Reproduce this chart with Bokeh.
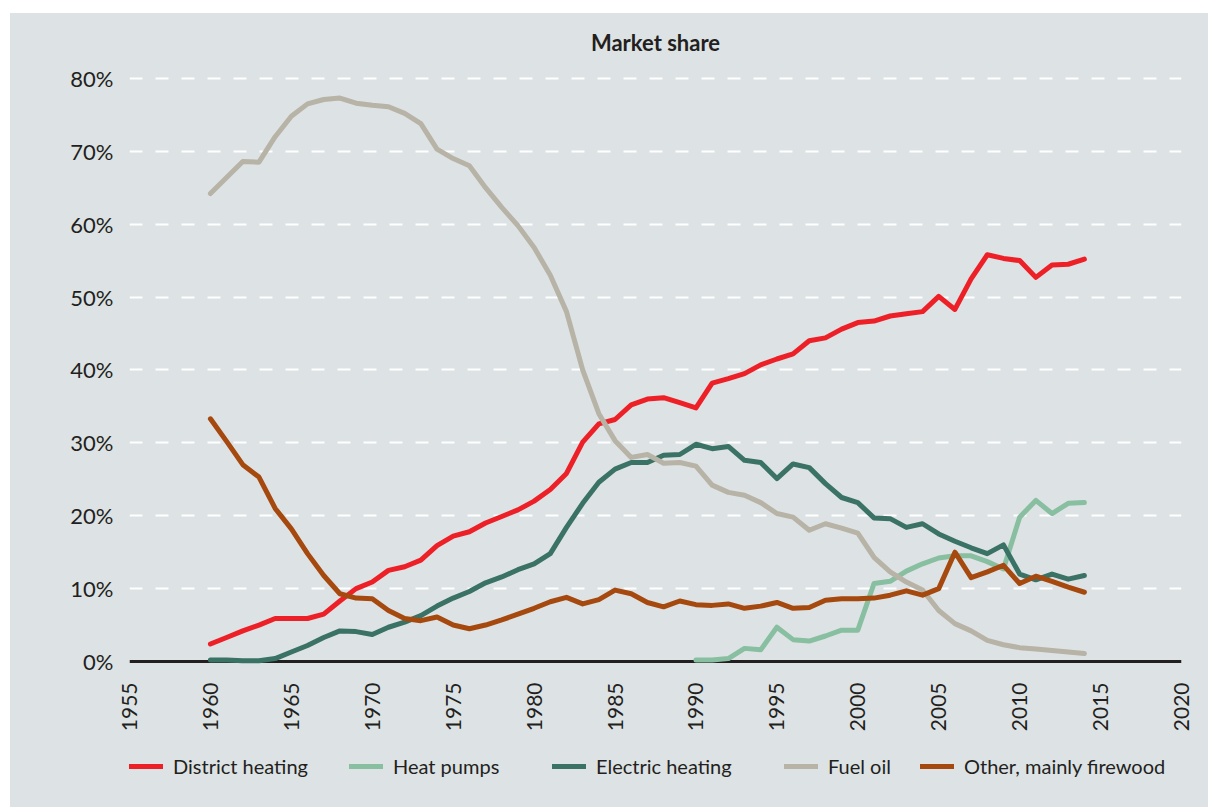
from math import pi
from bokeh.plotting import figure
from bokeh.layouts import column
from bokeh.models import Range1d, FixedTicker, PrintfTickFormatter, Span, Label, Legend, LegendItem
from bokeh.embed import file_html
from bokeh.resources import INLINE

# ---- data ----
years = list(range(1960, 2015))
hp_years = list(range(1990, 2015))

district_heating = [2.4, 3.3, 4.2, 5.0, 5.9, 5.9, 5.9, 6.5, 8.3, 10.0,
                    10.9, 12.5, 13.0, 13.9, 15.9, 17.2, 17.8, 19.0, 19.9, 20.8,
                    22.0, 23.6, 25.8, 30.1, 32.6, 33.2, 35.2, 36.0, 36.2, 35.5,
                    34.8, 38.2, 38.8, 39.5, 40.7, 41.5, 42.2, 44.0, 44.4, 45.6,
                    46.5, 46.7, 47.4, 47.7, 48.0, 50.1, 48.3, 52.5, 55.8, 55.3,
                    55.0, 52.7, 54.4, 54.5, 55.2]
heat_pumps = [0.2, 0.2, 0.4, 1.8, 1.6, 4.7, 3.0, 2.8, 3.5, 4.3,
              4.3, 10.7, 11.0, 12.4, 13.4, 14.2, 14.5, 14.5, 13.7, 12.7,
              19.8, 22.1, 20.3, 21.7, 21.8]
electric_heating = [0.2, 0.2, 0.1, 0.1, 0.4, 1.3, 2.2, 3.3, 4.2, 4.1,
                    3.7, 4.7, 5.4, 6.3, 7.6, 8.7, 9.6, 10.8, 11.6, 12.6,
                    13.4, 14.8, 18.4, 21.7, 24.6, 26.4, 27.3, 27.3, 28.3, 28.4,
                    29.8, 29.2, 29.5, 27.6, 27.3, 25.1, 27.1, 26.6, 24.4, 22.5,
                    21.8, 19.7, 19.6, 18.4, 18.9, 17.5, 16.5, 15.6, 14.8, 16.0,
                    12.0, 11.2, 12.0, 11.3, 11.8]
fuel_oil = [64.2, 66.4, 68.6, 68.5, 72.0, 74.8, 76.5, 77.1, 77.3, 76.6,
            76.3, 76.1, 75.2, 73.8, 70.3, 69.0, 68.0, 65.0, 62.3, 59.8,
            56.8, 53.0, 48.0, 40.0, 34.0, 30.3, 28.0, 28.4, 27.2, 27.3,
            26.8, 24.2, 23.2, 22.8, 21.8, 20.3, 19.8, 18.0, 18.9, 18.3,
            17.6, 14.3, 12.3, 10.9, 9.8, 7.0, 5.2, 4.2, 2.9, 2.3,
            1.9, 1.7, 1.5, 1.3, 1.1]
other_firewood = [33.3, 30.2, 27.0, 25.3, 21.0, 18.2, 14.8, 11.8, 9.3, 8.7,
                  8.6, 7.0, 5.9, 5.6, 6.1, 5.0, 4.5, 5.0, 5.7, 6.5,
                  7.3, 8.2, 8.8, 7.9, 8.5, 9.8, 9.3, 8.1, 7.5, 8.3,
                  7.8, 7.7, 7.9, 7.3, 7.6, 8.1, 7.3, 7.4, 8.4, 8.6,
                  8.6, 8.7, 9.1, 9.7, 9.1, 10.0, 15.0, 11.5, 12.3, 13.2,
                  10.7, 11.7, 11.0, 10.2, 9.5]

x_ticks = list(range(1955, 2021, 5))
y_ticks = list(range(0, 81, 10))
title_text = "Market share"
series_labels = ["District heating", "Heat pumps", "Electric heating", "Fuel oil", "Other, mainly firewood"]

# ---- style ----
BG = "#dde2e4"
TXT = "#231f20"
FONT = "Lato"
colors = ["#ee2027", "#87bfa0", "#3a7265", "#b7b3a6", "#a6490f"]

series = [(years, district_heating), (hp_years, heat_pumps), (years, electric_heating),
          (years, fuel_oil), (years, other_firewood)]

# ---- main chart ----
p = figure(width=1198, height=730,
           x_range=Range1d(1955, 2020), y_range=Range1d(-2.606, 88.9),
           output_backend="svg", toolbar_location=None,
           min_border_left=119, min_border_right=27,
           min_border_top=0, min_border_bottom=63,
           background_fill_color=BG, border_fill_color=BG,
           outline_line_color=None)

p.yaxis.ticker = FixedTicker(ticks=y_ticks)
p.yaxis.formatter = PrintfTickFormatter(format="%d%%")
p.xaxis.ticker = FixedTicker(ticks=x_ticks)
p.xaxis.major_label_orientation = pi / 2
for ax in (p.xaxis, p.yaxis):
    ax.axis_line_color = None
    ax.major_tick_line_color = None
    ax.minor_tick_line_color = None
    ax.major_tick_out = 0
    ax.major_tick_in = 0
    ax.major_label_text_font = FONT
    ax.major_label_text_color = TXT
p.yaxis.major_label_text_font_size = "22px"
p.yaxis.major_label_standoff = 16
p.xaxis.major_label_text_font_size = "21px"
p.xaxis.major_label_standoff = 2

p.xgrid.grid_line_color = None
p.ygrid.ticker = FixedTicker(ticks=y_ticks[1:])
p.ygrid.grid_line_color = "white"
p.ygrid.grid_line_width = 2
p.ygrid.grid_line_dash = "13 13"

p.add_layout(Span(location=0, dimension="width", line_color=TXT, line_width=3, level="underlay"))

for (xs, ys), c in zip(series, colors):
    p.line(xs, ys, line_color=c, line_width=5, line_cap="round", line_join="round")

p.add_layout(Label(x=1987.5, y=84.9, text=title_text, text_align="center", text_baseline="middle",
                   text_font=FONT, text_font_size="22px", text_font_style="bold", text_color=TXT))

# ---- legend strip (its frame is aligned with the chart's frame) ----
q = figure(width=1198, height=64,
           x_range=Range1d(1955, 2020), y_range=Range1d(0, 100),
           output_backend="svg", toolbar_location=None,
           x_axis_location=None, y_axis_location=None, min_border=0,
           background_fill_color=None, border_fill_color=BG, outline_line_color=None)
q.grid.visible = False

leg_x = [0, 220, 423, 655, 791]
for (xs, ys), c, lab, lx in zip(series, colors, series_labels, leg_x):
    r = q.line(xs, ys, line_color=c, line_width=5, line_cap="round", line_join="round", visible=False)
    leg = Legend(items=[LegendItem(label=lab, renderers=[r])], location=(lx, 29),
                 orientation="horizontal", padding=0, margin=0, spacing=0,
                 glyph_width=34, glyph_height=20, label_height=20, label_standoff=10,
                 label_text_font=FONT, label_text_font_size="20px", label_text_color=TXT,
                 background_fill_alpha=0, border_line_color=None,
                 inactive_fill_alpha=0)
    q.add_layout(leg)

layout = column(p, q, margin=(13, 0, 0, 10), spacing=0, styles={"background-color": BG})
open("out.html", "w").write(file_html(layout, INLINE))
